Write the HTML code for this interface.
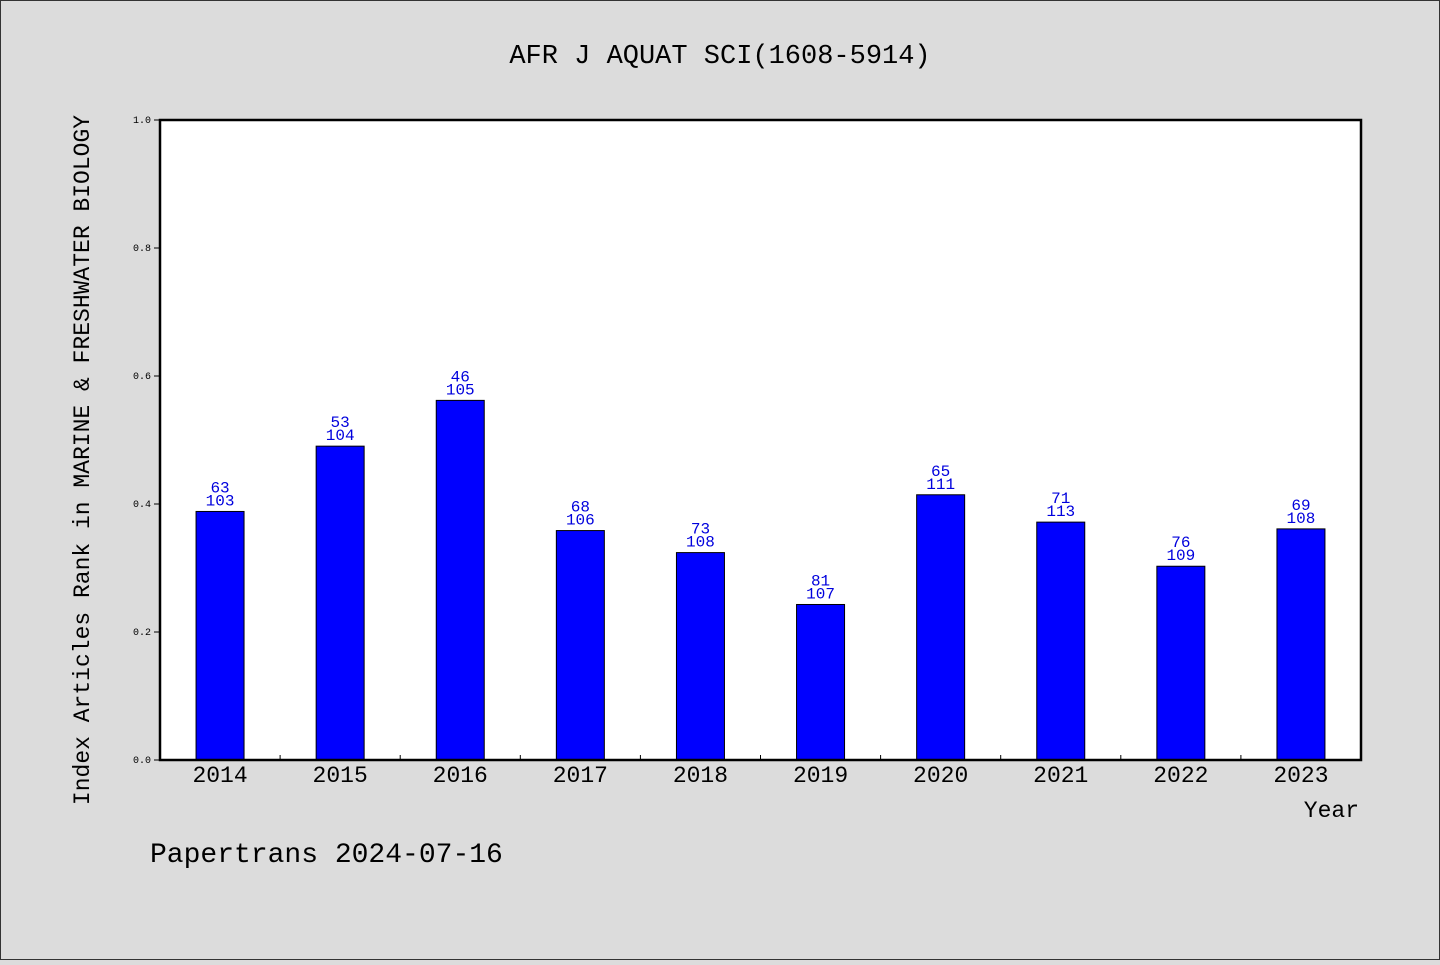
<!DOCTYPE html>
<html><head><meta charset="utf-8"><style>
body{margin:0;background:#dcdcdc;}
svg text{font-family:"WenQuanYi Zen Hei","Liberation Mono",monospace;}
</style></head><body>
<svg id="chart" width="1440" height="960" xmlns="http://www.w3.org/2000/svg">
<rect x="0.5" y="0.5" width="1439" height="959" fill="#dcdcdc" stroke="#333"/>
<text x="720" y="63" font-size="27" text-anchor="middle">AFR J AQUAT SCI(1608-5914)</text>
<rect x="160" y="120" width="1201" height="640" fill="#fff"/>
<g id="marks"></g>
<rect x="160" y="120" width="1201" height="640" fill="none" stroke="#000" stroke-width="2.5"/>
<text transform="translate(89,460) rotate(-90)" font-size="23" text-anchor="middle">Index Articles Rank in MARINE &amp; FRESHWATER BIOLOGY</text>
<text x="1359" y="817" font-size="23" text-anchor="end">Year</text>
<text x="150" y="862" font-size="28">Papertrans 2024-07-16</text>
</svg>
<script>
const categories=["2014","2015","2016","2017","2018","2019","2020","2021","2022","2023"];
const ranks=[63,53,46,68,73,81,65,71,76,69];
const totals=[103,104,105,106,108,107,111,113,109,108];
const yTicks=[0,0.2,0.4,0.6,0.8,1.0];
const X0=160,X1=1361,Y0=760,Y1=120;
const band=(X1-X0)/categories.length;
const xs=i=>X0+band*(i+0.5);
const ys=v=>Y0-(Y0-Y1)*v;
const NS="http://www.w3.org/2000/svg";
const g=document.getElementById('marks');
function mk(t,a){const e=document.createElementNS(NS,t);for(const k in a)e.setAttribute(k,a[k]);g.appendChild(e);return e;}
yTicks.forEach(v=>{
  const l=mk('line',{x1:X0-6,x2:X0,y1:ys(v),y2:ys(v),stroke:'#000'});
  
  
  const t=mk('text',{x:X0-9,y:ys(v)+3,'font-size':10,'text-anchor':'end'});
  t.textContent=v.toFixed(1);
  
  
});
categories.forEach((c,i)=>{
  if(i>0){const l=mk('line',{x1:X0+band*i,x2:X0+band*i,y1:Y0-5,y2:Y0,stroke:'#000'});
  
  }
  const v=1-ranks[i]/totals[i];
  const bw=48;
  const r=mk('rect',{x:xs(i)-bw/2,y:ys(v),width:bw,height:Y0-ys(v),fill:'#0000ff',stroke:'#000','stroke-width':1});
  
  
  const t1=mk('text',{x:xs(i),y:ys(v)-19,'font-size':16,'text-anchor':'middle',fill:'#0000dd'});
  t1.textContent=ranks[i];
  
  
  const t2=mk('text',{x:xs(i),y:ys(v)-6,'font-size':16,'text-anchor':'middle',fill:'#0000dd'});
  t2.textContent=totals[i];
  
  
  const xl=mk('text',{x:xs(i),y:782,'font-size':23,'text-anchor':'middle'});
  xl.textContent=c;
  
  
});
</script>
</body></html>
